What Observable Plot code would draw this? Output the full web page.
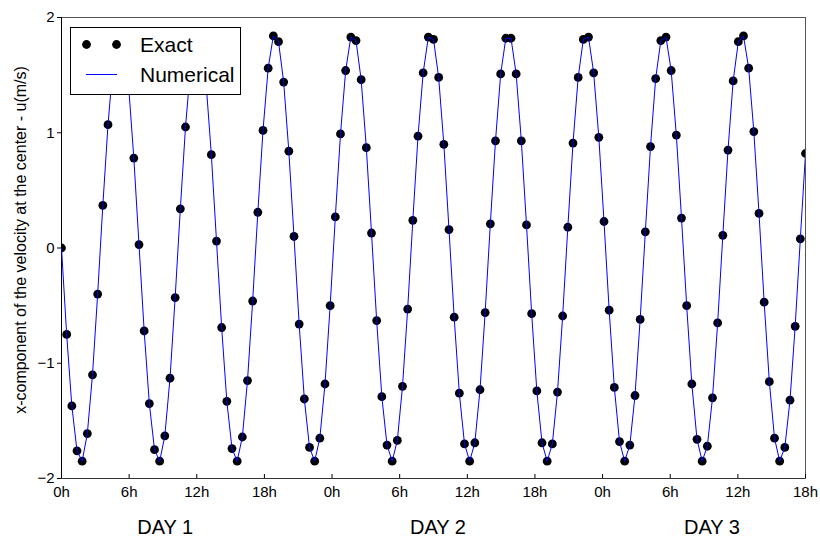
<!DOCTYPE html>
<html>
<head>
<meta charset="utf-8">
<script src="https://cdn.jsdelivr.net/npm/d3@7"></script>
<script src="https://cdn.jsdelivr.net/npm/@observablehq/plot@0.6"></script>
<style>
  html, body { margin: 0; padding: 0; background: #fff; }
  #wrap { position: relative; width: 820px; height: 537px; font-family: Arial, "Liberation Sans", sans-serif; }
  #legend {
    position: absolute; left: 70px; top: 27px; width: 171px; height: 68px;
    box-sizing: border-box; border: 1px solid #000; background: #fff;
  }
  #legend svg { position: absolute; left: 0; top: 0; }
  #legend .lbl { position: absolute; left: 69px; font-size: 21px; line-height: 21px; color: #000; }
</style>
</head>
<body>
<div id="wrap"><div id="chart"></div>
  <div id="legend">
    <svg width="169" height="66">
      <circle cx="15.5" cy="16.5" r="4.4" fill="#000"></circle>
      <circle cx="45.5" cy="16.5" r="4.4" fill="#000"></circle>
      <line x1="15" x2="46" y1="46.5" y2="46.5" stroke="#0000ff" stroke-width="1"></line>
    </svg>
    <div class="lbl" style="top:6px">Exact</div>
    <div class="lbl" style="top:36px">Numerical</div>
  </div>
</div>
<script>
// Sampling interval: 145 samples over 66 hours
const sampleStepHours = 66 / 144;

// x-component of velocity at the centre (m/s), one value per sample
const exactU = [
  0.00, -0.75, -1.37, -1.76, -1.85, -1.61, -1.10, -0.40, 0.37, 1.07,
  1.60, 1.85, 1.77, 1.40, 0.78, 0.03, -0.72, -1.35, -1.75, -1.85,
  -1.63, -1.13, -0.43, 0.34, 1.05, 1.58, 1.84, 1.78, 1.42, 0.81,
  0.06, -0.69, -1.33, -1.74, -1.85, -1.64, -1.15, -0.46, 0.31, 1.02,
  1.56, 1.84, 1.79, 1.44, 0.84, 0.10, -0.66, -1.31, -1.73, -1.85,
  -1.65, -1.18, -0.50, 0.27, 0.99, 1.54, 1.83, 1.80, 1.46, 0.87,
  0.13, -0.63, -1.29, -1.71, -1.85, -1.67, -1.20, -0.53, 0.24, 0.97,
  1.52, 1.83, 1.81, 1.48, 0.90, 0.16, -0.60, -1.26, -1.70, -1.85,
  -1.69, -1.23, -0.56, 0.21, 0.93, 1.51, 1.82, 1.82, 1.51, 0.93,
  0.20, -0.57, -1.24, -1.69, -1.85, -1.70, -1.25, -0.59, 0.18, 0.91,
  1.48, 1.81, 1.83, 1.52, 0.96, 0.23, -0.54, -1.21, -1.68, -1.85,
  -1.71, -1.28, -0.62, 0.14, 0.88, 1.47, 1.80, 1.83, 1.54, 0.98,
  0.26, -0.50, -1.18, -1.66, -1.85, -1.72, -1.30, -0.65, 0.11, 0.85,
  1.45, 1.79, 1.84, 1.56, 1.01, 0.30, -0.47, -1.16, -1.65, -1.85,
  -1.73, -1.32, -0.68, 0.08, 0.82
];
// Numerical solution (coincides with the exact one at this resolution)
const numericalU = exactU.slice();

const xTicks = [0, 6, 12, 18, 24, 30, 36, 42, 48, 54, 60, 66];
const xTickLabels = ["0h", "6h", "12h", "18h", "0h", "6h", "12h", "18h", "0h", "6h", "12h", "18h"];
const yTicks = [-2, -1, 0, 1, 2];
const yTickLabels = ["−2", "−1", "0", "1", "2"];
const dayLabels = ["DAY 1", "DAY 2", "DAY 3"];
const dayLabelHours = [9.2, 33.4, 57.7];
const yLabel = "x-component of the velocity at the center - u(m/s)";

const exactData = exactU.map((u, i) => ({t: i * sampleStepHours, u}));
const numData = numericalU.map((u, i) => ({t: i * sampleStepHours, u}));
const days = dayLabels.map((label, i) => ({label, t: dayLabelHours[i]}));

const chart = Plot.plot({
  width: 820,
  height: 537,
  marginLeft: 61,
  marginRight: 15,
  marginTop: 17,
  marginBottom: 59,
  style: {fontFamily: 'Arial, "Liberation Sans", sans-serif', fontSize: "15px", color: "#000", background: "#fff"},
  x: {domain: [0, 66]},
  y: {domain: [-2, 2]},
  marks: [
    Plot.frame({stroke: "#555"}),
    Plot.axisX(xTicks, {tickSize: 0, tickPadding: 8, tickFormat: (d, i) => xTickLabels[i], fontSize: 15, label: null}),
    Plot.tickX(xTicks, {x: d => d, stroke: "#000", insetTop: 457}),
    Plot.axisY(yTicks, {tickSize: 4, tickPadding: 3, tickFormat: (d, i) => yTickLabels[i], fontSize: 15, label: null, stroke: "#000"}),
    Plot.ruleX([0], {stroke: "#000"}),
    Plot.ruleY([-2], {stroke: "#333"}),
    Plot.dot(exactData, {x: "t", y: "u", r: 4.4, fill: "#000", stroke: "none", clip: true}),
    Plot.line(numData, {x: "t", y: "u", stroke: "#0000ff", strokeWidth: 1, clip: true}),
    Plot.text(days, {x: "t", text: "label", frameAnchor: "bottom", dy: 49, fontSize: 20, lineAnchor: "middle"}),
    Plot.text([yLabel], {frameAnchor: "left", dx: -41, dy: -8, rotate: -90, fontSize: 16, textAnchor: "middle", lineAnchor: "middle"})
  ]
});
document.getElementById("chart").appendChild(chart);
</script>
</body>
</html>
